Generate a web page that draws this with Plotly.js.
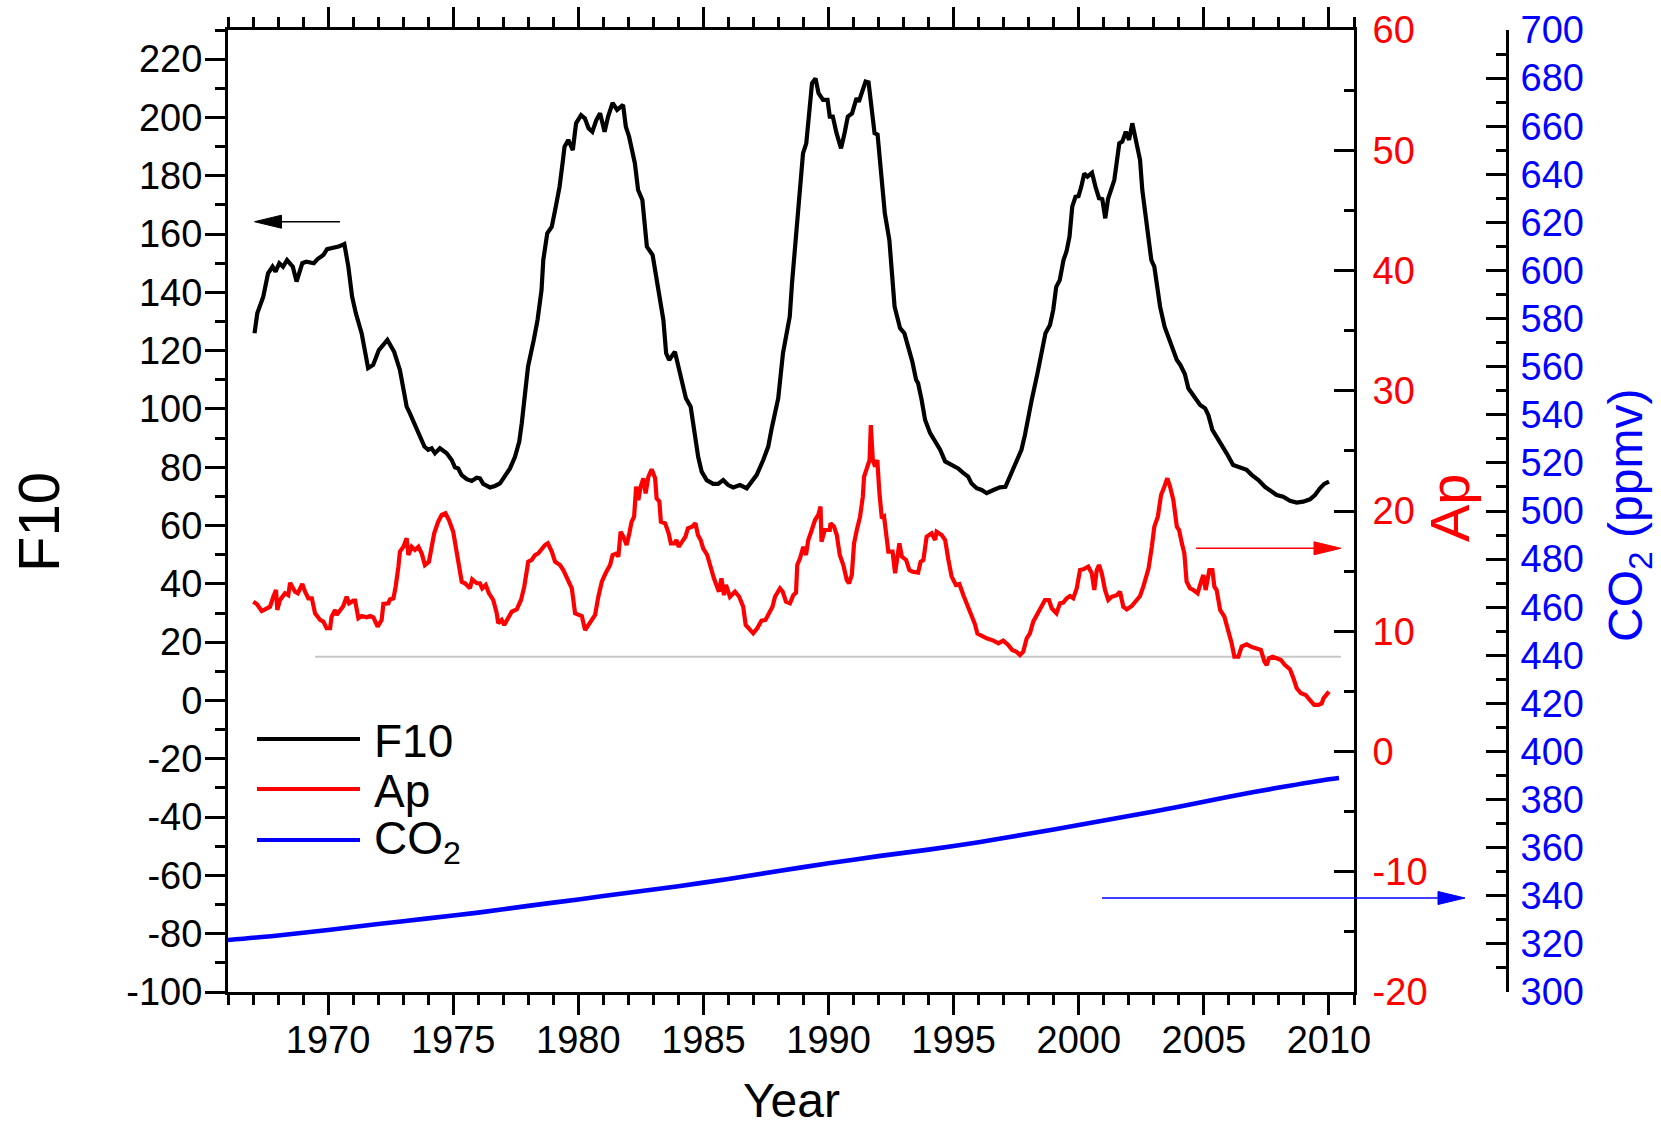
<!DOCTYPE html>
<html>
<head>
<meta charset="utf-8">
<script src="https://cdn.plot.ly/plotly-3.0.1.min.js"></script>
<style>
  html, body { margin: 0; padding: 0; background: #ffffff; }
  #chart { width: 1661px; height: 1130px; }
</style>
</head>
<body>
<div id="chart"></div>
<script>
// Solar radio flux F10.7 (smoothed), left axis
const f10Years = [
  1967.06, 1967.17, 1967.41, 1967.60, 1967.78, 1967.90, 1968.05, 1968.20, 1968.36, 1968.59,
  1968.74, 1968.97, 1969.13, 1969.43, 1969.58, 1969.81, 1969.96, 1970.20, 1970.42, 1970.65,
  1970.81, 1970.96, 1971.11, 1971.34, 1971.50, 1971.60, 1971.80, 1972.03, 1972.37, 1972.64,
  1972.87, 1973.00, 1973.14, 1973.27, 1973.47, 1973.67, 1973.85, 1974.00, 1974.14, 1974.27,
  1974.47, 1974.74, 1974.94, 1975.07, 1975.20, 1975.34, 1975.54, 1975.74, 1975.94, 1976.07,
  1976.20, 1976.47, 1976.67, 1976.87, 1977.07, 1977.27, 1977.47, 1977.64, 1977.74, 1977.83,
  1977.99, 1978.22, 1978.37, 1978.53, 1978.60, 1978.76, 1978.94, 1979.10, 1979.25, 1979.37,
  1979.45, 1979.60, 1979.78, 1979.91, 1980.11, 1980.26, 1980.41, 1980.56, 1980.72, 1980.87,
  1981.05, 1981.19, 1981.37, 1981.55, 1981.79, 1981.90, 1982.03, 1982.26, 1982.39, 1982.56,
  1982.74, 1982.97, 1983.19, 1983.40, 1983.51, 1983.63, 1983.86, 1984.17, 1984.30, 1984.49,
  1984.66, 1984.79, 1984.93, 1985.13, 1985.39, 1985.59, 1985.79, 1985.99, 1986.19, 1986.46,
  1986.73, 1986.93, 1987.13, 1987.39, 1987.59, 1987.73, 1987.86, 1987.99, 1988.18, 1988.45,
  1988.54, 1988.72, 1988.86, 1988.98, 1989.11, 1989.25, 1989.34, 1989.48, 1989.60, 1989.78,
  1989.96, 1990.05, 1990.17, 1990.32, 1990.50, 1990.64, 1990.77, 1990.94, 1991.12, 1991.21,
  1991.39, 1991.48, 1991.60, 1991.75, 1991.84, 1991.96, 1992.10, 1992.25, 1992.43, 1992.55,
  1992.64, 1992.86, 1993.03, 1993.18, 1993.35, 1993.50, 1993.58, 1993.72, 1993.86, 1994.06,
  1994.26, 1994.46, 1994.66, 1994.92, 1995.18, 1995.38, 1995.58, 1995.71, 1995.92, 1996.12,
  1996.32, 1996.59, 1996.85, 1997.07, 1997.18, 1997.38, 1997.58, 1997.71, 1997.85, 1997.98,
  1998.12, 1998.35, 1998.53, 1998.67, 1998.85, 1998.98, 1999.10, 1999.24, 1999.39, 1999.51,
  1999.63, 1999.74, 1999.87, 1999.99, 2000.10, 2000.22, 2000.35, 2000.53, 2000.67, 2000.81,
  2000.94, 2001.06, 2001.17, 2001.30, 2001.42, 2001.53, 2001.62, 2001.74, 2001.88, 2002.01,
  2002.14, 2002.28, 2002.45, 2002.54, 2002.67, 2002.78, 2002.90, 2003.02, 2003.17, 2003.25,
  2003.43, 2003.61, 2003.79, 2003.92, 2004.06, 2004.24, 2004.38, 2004.55, 2004.68, 2004.85,
  2005.05, 2005.18, 2005.34, 2005.51, 2005.71, 2005.91, 2006.17, 2006.44, 2006.71, 2006.91,
  2007.18, 2007.44, 2007.71, 2007.91, 2008.17, 2008.44, 2008.71, 2008.97, 2009.24, 2009.44,
  2009.64, 2009.81, 2010.00
];
const f10Values = [
  126.0, 132.8, 138.5, 146.5, 148.8, 147.1, 150.0, 148.8, 151.1, 148.8,
  143.7, 150.0, 150.5, 150.0, 151.4, 152.8, 154.8, 155.2, 155.7, 156.6,
  148.8, 138.5, 132.8, 126.0, 119.1, 114.0, 115.1, 120.2, 123.7, 119.6,
  113.4, 107.5, 100.8, 98.5, 94.5, 91.1, 87.1, 86.0, 86.5, 84.8,
  86.5, 84.8, 82.5, 80.0, 79.6, 77.3, 75.9, 75.3, 76.4, 76.2,
  74.3, 73.1, 73.6, 74.5, 77.3, 79.6, 83.6, 88.8, 95.1, 103.1,
  114.5, 123.7, 130.5, 140.8, 151.1, 160.3, 162.5, 169.4, 176.2, 184.3,
  190.0, 192.3, 188.8, 198.0, 200.8, 199.7, 196.3, 195.1, 199.1, 201.4,
  195.1, 200.3, 205.0, 202.6, 204.3, 196.8, 193.4, 184.3, 175.1, 171.7,
  155.7, 152.8, 141.9, 130.5, 119.1, 116.8, 119.6, 108.8, 103.7, 100.8,
  91.7, 83.6, 78.5, 75.6, 74.3, 74.3, 75.6, 73.9, 73.1, 73.9,
  72.8, 75.1, 77.4, 82.5, 87.1, 93.4, 98.5, 103.7, 119.2, 131.7,
  143.1, 162.5, 175.1, 187.7, 191.1, 202.6, 211.7, 213.4, 208.3, 206.0,
  206.0, 200.3, 200.3, 194.6, 189.4, 194.6, 200.3, 201.4, 206.6, 205.4,
  210.6, 212.3, 212.0, 200.3, 194.6, 194.1, 180.8, 167.1, 158.0, 145.4,
  135.1, 127.7, 126.0, 121.4, 116.2, 110.0, 108.8, 103.1, 96.2, 91.7,
  88.8, 86.0, 82.0, 80.8, 79.6, 78.1, 76.8, 74.5, 72.8, 72.2,
  71.1, 72.2, 73.1, 73.3, 75.6, 79.1, 83.1, 86.0, 91.1, 97.4,
  103.1, 112.2, 120.2, 126.0, 128.8, 134.0, 141.9, 144.2, 151.1, 154.0,
  159.1, 169.4, 172.8, 173.0, 176.2, 180.8, 179.7, 181.0, 176.2, 172.3,
  172.0, 165.4, 172.0, 175.1, 178.5, 185.4, 191.1, 191.7, 195.1, 192.3,
  198.0, 192.3, 185.4, 175.1, 166.0, 160.3, 151.1, 148.8, 139.7, 135.1,
  128.2, 123.7, 119.6, 116.8, 115.1, 112.0, 107.1, 105.0, 103.1, 101.4,
  100.2, 97.9, 92.8, 90.5, 87.6, 84.8, 80.8, 80.0, 79.1, 77.4,
  75.6, 73.3, 71.6, 70.5, 69.9, 68.5, 67.9, 68.2, 69.0, 70.5,
  72.8, 74.3, 75.1
];

// Geomagnetic Ap index (smoothed), first right axis
const apYears = [
  1967.01, 1967.15, 1967.35, 1967.55, 1967.68, 1967.81, 1967.92, 1967.97, 1968.08, 1968.28,
  1968.41, 1968.48, 1968.68, 1968.79, 1968.97, 1969.08, 1969.21, 1969.35, 1969.48, 1969.68,
  1969.81, 1969.94, 1970.08, 1970.14, 1970.28, 1970.34, 1970.48, 1970.61, 1970.74, 1970.84,
  1971.01, 1971.08, 1971.21, 1971.34, 1971.54, 1971.68, 1971.81, 1971.98, 1972.14, 1972.21,
  1972.41, 1972.47, 1972.61, 1972.70, 1972.81, 1972.87, 1973.01, 1973.14, 1973.21, 1973.34,
  1973.47, 1973.61, 1973.74, 1973.87, 1974.03, 1974.11, 1974.24, 1974.40, 1974.54, 1974.69,
  1974.83, 1975.00, 1975.14, 1975.27, 1975.34, 1975.47, 1975.67, 1975.76, 1975.94, 1976.07,
  1976.16, 1976.30, 1976.43, 1976.60, 1976.74, 1976.80, 1976.94, 1977.04, 1977.20, 1977.34,
  1977.54, 1977.71, 1977.84, 1978.00, 1978.14, 1978.27, 1978.40, 1978.54, 1978.67, 1978.78,
  1978.94, 1979.07, 1979.27, 1979.40, 1979.60, 1979.74, 1979.87, 1980.00, 1980.14, 1980.27,
  1980.40, 1980.54, 1980.67, 1980.80, 1980.94, 1981.09, 1981.27, 1981.37, 1981.53, 1981.60,
  1981.69, 1981.80, 1981.93, 1982.04, 1982.13, 1982.23, 1982.31, 1982.40, 1982.49, 1982.60,
  1982.69, 1982.80, 1982.93, 1983.07, 1983.13, 1983.24, 1983.30, 1983.47, 1983.61, 1983.70,
  1983.84, 1983.92, 1984.01, 1984.15, 1984.28, 1984.38, 1984.55, 1984.68, 1984.78, 1984.89,
  1984.99, 1985.15, 1985.28, 1985.42, 1985.62, 1985.72, 1985.82, 1985.90, 1986.06, 1986.26,
  1986.43, 1986.59, 1986.69, 1986.83, 1986.99, 1987.15, 1987.32, 1987.48, 1987.63, 1987.76,
  1987.86, 1988.06, 1988.17, 1988.30, 1988.46, 1988.59, 1988.70, 1988.75, 1988.86, 1988.99,
  1989.10, 1989.19, 1989.33, 1989.46, 1989.59, 1989.68, 1989.72, 1989.85, 1990.05, 1990.08,
  1990.22, 1990.33, 1990.45, 1990.59, 1990.73, 1990.82, 1990.93, 1991.02, 1991.13, 1991.26,
  1991.37, 1991.42, 1991.53, 1991.64, 1991.69, 1991.77, 1991.86, 1991.95, 1992.03, 1992.13,
  1992.22, 1992.30, 1992.39, 1992.56, 1992.66, 1992.83, 1992.93, 1993.10, 1993.23, 1993.36,
  1993.58, 1993.68, 1993.79, 1993.92, 1994.12, 1994.26, 1994.32, 1994.52, 1994.66, 1994.79,
  1994.92, 1995.09, 1995.23, 1995.39, 1995.52, 1995.68, 1995.85, 1995.95, 1996.12, 1996.32,
  1996.59, 1996.79, 1996.98, 1997.18, 1997.34, 1997.51, 1997.65, 1997.78, 1997.92, 1998.05,
  1998.18, 1998.32, 1998.45, 1998.65, 1998.81, 1998.92, 1999.11, 1999.25, 1999.38, 1999.52,
  1999.65, 1999.78, 1999.92, 2000.05, 2000.18, 2000.38, 2000.52, 2000.62, 2000.72, 2000.81,
  2000.92, 2001.05, 2001.18, 2001.32, 2001.52, 2001.65, 2001.78, 2001.92, 2002.12, 2002.26,
  2002.45, 2002.58, 2002.72, 2002.79, 2002.92, 2003.02, 2003.16, 2003.29, 2003.42, 2003.54,
  2003.65, 2003.78, 2003.92, 2004.01, 2004.12, 2004.22, 2004.31, 2004.45, 2004.58, 2004.75,
  2004.89, 2004.98, 2005.07, 2005.22, 2005.34, 2005.42, 2005.51, 2005.65, 2005.82, 2005.98,
  2006.11, 2006.22, 2006.38, 2006.51, 2006.71, 2006.88, 2007.11, 2007.28, 2007.42, 2007.51,
  2007.60, 2007.74, 2007.91, 2008.08, 2008.24, 2008.44, 2008.58, 2008.71, 2008.88, 2009.07,
  2009.24, 2009.41, 2009.58, 2009.71, 2009.78, 2009.91, 2010.00
];
const apValues = [
  12.46, 12.27, 11.68, 11.90, 12.04, 12.87, 13.43, 11.77, 12.60, 13.16,
  13.00, 14.04, 13.29, 13.16, 13.93, 13.29, 12.74, 12.74, 11.49, 10.94,
  10.80, 10.25, 10.25, 11.21, 11.77, 11.35, 11.82, 12.10, 12.87, 12.32,
  12.54, 12.54, 11.08, 11.27, 11.16, 11.27, 11.16, 10.38, 10.94, 12.27,
  12.32, 12.65, 12.74, 13.71, 15.37, 16.62, 17.03, 17.73, 16.34, 17.03,
  16.76, 17.03, 16.48, 15.51, 15.78, 16.76, 18.15, 19.11, 19.67, 19.81,
  19.25, 18.28, 16.76, 15.09, 14.12, 13.99, 13.57, 14.32, 13.99, 13.99,
  13.57, 13.85, 13.16, 12.60, 11.49, 10.66, 10.94, 10.52, 11.21, 11.63,
  11.82, 12.60, 13.71, 15.78, 15.93, 16.34, 16.48, 16.90, 17.17, 17.31,
  16.62, 15.78, 15.51, 15.09, 14.26, 13.57, 11.49, 11.35, 11.27, 10.10,
  10.52, 10.94, 11.35, 12.87, 14.12, 14.82, 15.51, 16.34, 16.48, 16.20,
  18.28, 17.86, 17.17, 18.15, 19.11, 19.53, 22.02, 20.91, 22.02, 22.72,
  21.47, 22.85, 23.47, 22.72, 21.05, 20.78, 19.11, 18.98, 18.15, 17.31,
  17.31, 17.59, 17.03, 17.45, 17.86, 18.56, 18.70, 18.98, 18.00, 17.59,
  16.90, 16.34, 15.37, 14.40, 13.29, 14.40, 13.00, 13.85, 12.87, 13.29,
  12.87, 12.04, 10.52, 10.25, 9.83, 10.25, 10.88, 10.94, 11.63, 12.04,
  12.87, 13.57, 13.29, 12.46, 12.32, 13.00, 13.20, 15.51, 16.07, 17.03,
  16.34, 17.59, 18.42, 19.25, 19.67, 20.36, 17.45, 18.42, 18.42, 18.98,
  18.70, 18.00, 16.34, 15.51, 14.26, 13.99, 14.68, 17.31, 18.42, 19.53,
  21.19, 22.85, 23.55, 24.24, 27.15, 24.24, 23.69, 24.24, 21.60, 19.39,
  19.53, 17.86, 16.62, 16.62, 14.82, 17.31, 16.20, 15.93, 15.09, 14.95,
  14.87, 15.78, 15.93, 17.86, 18.15, 17.59, 18.28, 18.00, 17.59, 15.93,
  14.54, 13.85, 13.93, 13.00, 12.32, 11.49, 10.60, 9.80, 9.60, 9.41,
  9.22, 9.00, 9.22, 8.86, 8.44, 8.30, 8.02, 8.30, 9.41, 9.83,
  10.80, 11.35, 11.91, 12.60, 12.60, 11.91, 11.49, 12.32, 12.38, 12.74,
  12.93, 12.74, 13.57, 15.09, 15.15, 15.37, 14.82, 13.43, 15.09, 15.51,
  14.82, 13.43, 12.60, 12.87, 13.00, 13.29, 12.04, 11.82, 12.10, 12.46,
  12.93, 13.71, 14.82, 15.23, 17.03, 18.70, 19.53, 21.33, 22.02, 22.72,
  22.02, 20.91, 18.70, 18.42, 17.31, 16.48, 14.12, 13.57, 13.43, 13.16,
  14.12, 14.68, 13.43, 15.09, 15.09, 13.71, 13.43, 11.77, 11.21, 10.10,
  9.00, 7.88, 7.88, 8.72, 8.91, 8.72, 8.58, 8.44, 7.47, 7.19,
  7.75, 7.88, 7.75, 7.61, 7.19, 6.84, 6.09, 5.26, 4.84, 4.70,
  4.28, 3.87, 3.87, 4.00, 4.42, 4.84, 4.98
];

// Atmospheric CO2 concentration (ppmv), second right axis
const co2Years = [
  1966.0, 1968.0, 1970.0, 1972.0, 1974.0, 1976.0, 1978.0, 1980.0, 1982.0, 1984.0,
  1986.0, 1988.0, 1990.0, 1992.0, 1994.0, 1996.0, 1998.0, 2000.0, 2002.0, 2004.0,
  2006.0, 2008.0, 2010.0, 2010.4
];
const co2Values = [
  321.6, 323.5, 325.8, 328.3, 330.6, 333.0, 335.8, 338.5, 341.3, 344.0,
  347.0, 350.3, 353.5, 356.5, 359.2, 362.3, 365.8, 369.4, 373.2, 377.0,
  381.2, 385.0, 388.5, 389.0
];

// Axis ranges and tick labels
const yearRange = [1966, 2011];
const f10Range = [-100, 230];
const apRange = [-20, 60];
const co2Range = [300, 700];
const f10TickVals = [-100, -80, -60, -40, -20, 0, 20, 40, 60, 80, 100, 120, 140, 160, 180, 200, 220];
const f10TickText = ['-100', '-80', '-60', '-40', '-20', '0', '20', '40', '60', '80', '100', '120', '140', '160', '180', '200', '220'];
const apTickVals = [-20, -10, 0, 10, 20, 30, 40, 50, 60];
const apTickText = ['-20', '-10', '0', '10', '20', '30', '40', '50', '60'];
const seriesNames = ['F10', 'Ap', 'CO<sub>2</sub>'];
const seriesColors = ['#000000', '#ff0000', '#0000ff'];

// ---- page geometry (pixels) ----
const FIG_W = 1661, FIG_H = 1130;
const M = { l: 228, r: 154, t: 30, b: 138 };
const PAPER_W = FIG_W - M.l - M.r;
const PAPER_H = FIG_H - M.t - M.b;
const PLOT_RIGHT = 1354;               // x of the Ap axis line
const xDomainEnd = (PLOT_RIGHT - M.l) / PAPER_W;
const px = v => (v - M.l) / PAPER_W;          // pixel x -> paper x
const py = v => (FIG_H - M.b - v) / PAPER_H;  // pixel y -> paper y

const FONT = 'Liberation Sans, Arial, Helvetica, sans-serif';
const TICK_SIZE = 38;

const traces = [
  { x: f10Years, y: f10Values, name: 'F10', type: 'scatter', mode: 'lines',
    line: { color: seriesColors[0], width: 4.2 }, yaxis: 'y', showlegend: false },
  { x: apYears, y: apValues, name: 'Ap', type: 'scatter', mode: 'lines',
    line: { color: seriesColors[1], width: 4.2 }, yaxis: 'y2', showlegend: false },
  { x: co2Years, y: co2Values, name: 'CO2', type: 'scatter', mode: 'lines',
    line: { color: seriesColors[2], width: 4.6, shape: 'spline', smoothing: 0.8 },
    yaxis: 'y3', showlegend: false }
];

function axisBase(color) {
  return {
    showline: true, linecolor: '#000', linewidth: 3,
    showgrid: false, zeroline: false,
    tickcolor: '#000', tickwidth: 3, ticklen: 20,
    tickfont: { family: FONT, size: TICK_SIZE, color: color }
  };
}

// arrows: shaft + filled head, in pixel units converted to paper
function arrow(x0, x1, y, color) {
  const dir = Math.sign(x1 - x0);
  const headLen = 27, halfW = 6.5;
  const base = x1 - dir * headLen;
  return [
    { type: 'line', xref: 'paper', yref: 'paper',
      x0: px(x0), x1: px(base), y0: py(y), y1: py(y),
      line: { color: color, width: 1.6 } },
    { type: 'path', xref: 'paper', yref: 'paper',
      path: `M ${px(x1)},${py(y)} L ${px(base)},${py(y - halfW)} L ${px(base)},${py(y + halfW)} Z`,
      fillcolor: color, line: { color: color, width: 1 } }
  ];
}

// legend drawn as line samples + labels
const legendRowsY = [739, 789, 840];
const legendShapes = legendRowsY.map((y, i) => ({
  type: 'line', xref: 'paper', yref: 'paper',
  x0: px(257), x1: px(360), y0: py(y), y1: py(y),
  line: { color: seriesColors[i], width: 4 }
}));
const legendLabels = legendRowsY.map((y, i) => ({
  xref: 'paper', yref: 'paper', x: px(372), y: py(y + 2),
  xanchor: 'left', yanchor: 'middle', showarrow: false,
  text: seriesNames[i], font: { family: FONT, size: 46, color: '#000' }
}));

// axis titles placed around the plot frame
const axisTitles = [
  { xref: 'paper', yref: 'paper', x: px(791), y: py(1129),
    xanchor: 'center', yanchor: 'bottom', showarrow: false,
    text: 'Year', font: { family: FONT, size: 48, color: '#000000' } },
  { xref: 'paper', yref: 'paper', x: px(38), y: py(522),
    xanchor: 'center', yanchor: 'middle', textangle: -90, showarrow: false,
    text: 'F10', font: { family: FONT, size: 58, color: '#000000' } },
  { xref: 'paper', yref: 'paper', x: px(1449), y: py(508),
    xanchor: 'center', yanchor: 'middle', textangle: -90, showarrow: false,
    text: 'Ap', font: { family: FONT, size: 56, color: '#ff0000' } },
  { xref: 'paper', yref: 'paper', x: px(1629), y: py(516),
    xanchor: 'center', yanchor: 'middle', textangle: -90, showarrow: false,
    text: 'CO<sub>2</sub> (ppmv)', font: { family: FONT, size: 48, color: '#0000ff' } }
];

const layout = {
  width: FIG_W, height: FIG_H,
  margin: M,
  paper_bgcolor: '#ffffff', plot_bgcolor: '#ffffff',
  showlegend: false,
  font: { family: FONT },
  xaxis: Object.assign(axisBase('#000'), {
    domain: [0, xDomainEnd],
    range: yearRange, ticks: 'outside', mirror: 'ticks',
    tickmode: 'linear', tick0: 1970, dtick: 5, ticklabelstandoff: -8,
    minor: { tickmode: 'linear', tick0: 1966, dtick: 1, ticks: 'outside', ticklen: 10, tickwidth: 3, tickcolor: '#000' }
  }),
  yaxis: Object.assign(axisBase('#000'), {
    range: f10Range, ticks: 'outside',
    tickmode: 'array', tickvals: f10TickVals, ticktext: f10TickText, ticklabelstandoff: -5,
    minor: { tickmode: 'linear', tick0: 0, dtick: 10, ticks: 'outside', ticklen: 10, tickwidth: 3, tickcolor: '#000' }
  }),
  yaxis2: Object.assign(axisBase('#ff0000'), {
    overlaying: 'y', side: 'right', anchor: 'x',
    range: apRange, ticks: 'inside',
    tickmode: 'array', tickvals: apTickVals, ticktext: apTickText, ticklabelstandoff: 8,
    minor: { tickmode: 'linear', tick0: 0, dtick: 5, ticks: 'inside', ticklen: 10, tickwidth: 3, tickcolor: '#000' }
  }),
  yaxis3: Object.assign(axisBase('#0000ff'), {
    overlaying: 'y', side: 'right', anchor: 'free', position: 1,
    range: co2Range, ticks: 'inside',
    tickmode: 'linear', tick0: 300, dtick: 20, ticklabelstandoff: 4,
    minor: { tickmode: 'linear', tick0: 300, dtick: 10, ticks: 'inside', ticklen: 10, tickwidth: 3, tickcolor: '#000' }
  }),
  shapes: [
    // reference level line
    { type: 'line', xref: 'x', yref: 'y', x0: 1969.48, x1: 2010.48, y0: 15, y1: 15,
      layer: 'below', line: { color: '#c8c8c8', width: 2 } },
    ...arrow(340, 254.5, 221.7, '#000000'),
    ...arrow(1196, 1341, 548.3, '#ff0000'),
    ...arrow(1102, 1465, 898, '#0000ff'),
    ...legendShapes
  ],
  annotations: legendLabels.concat(axisTitles)
};

Plotly.newPlot('chart', traces, layout, { staticPlot: true, displayModeBar: false });
</script>
</body>
</html>
